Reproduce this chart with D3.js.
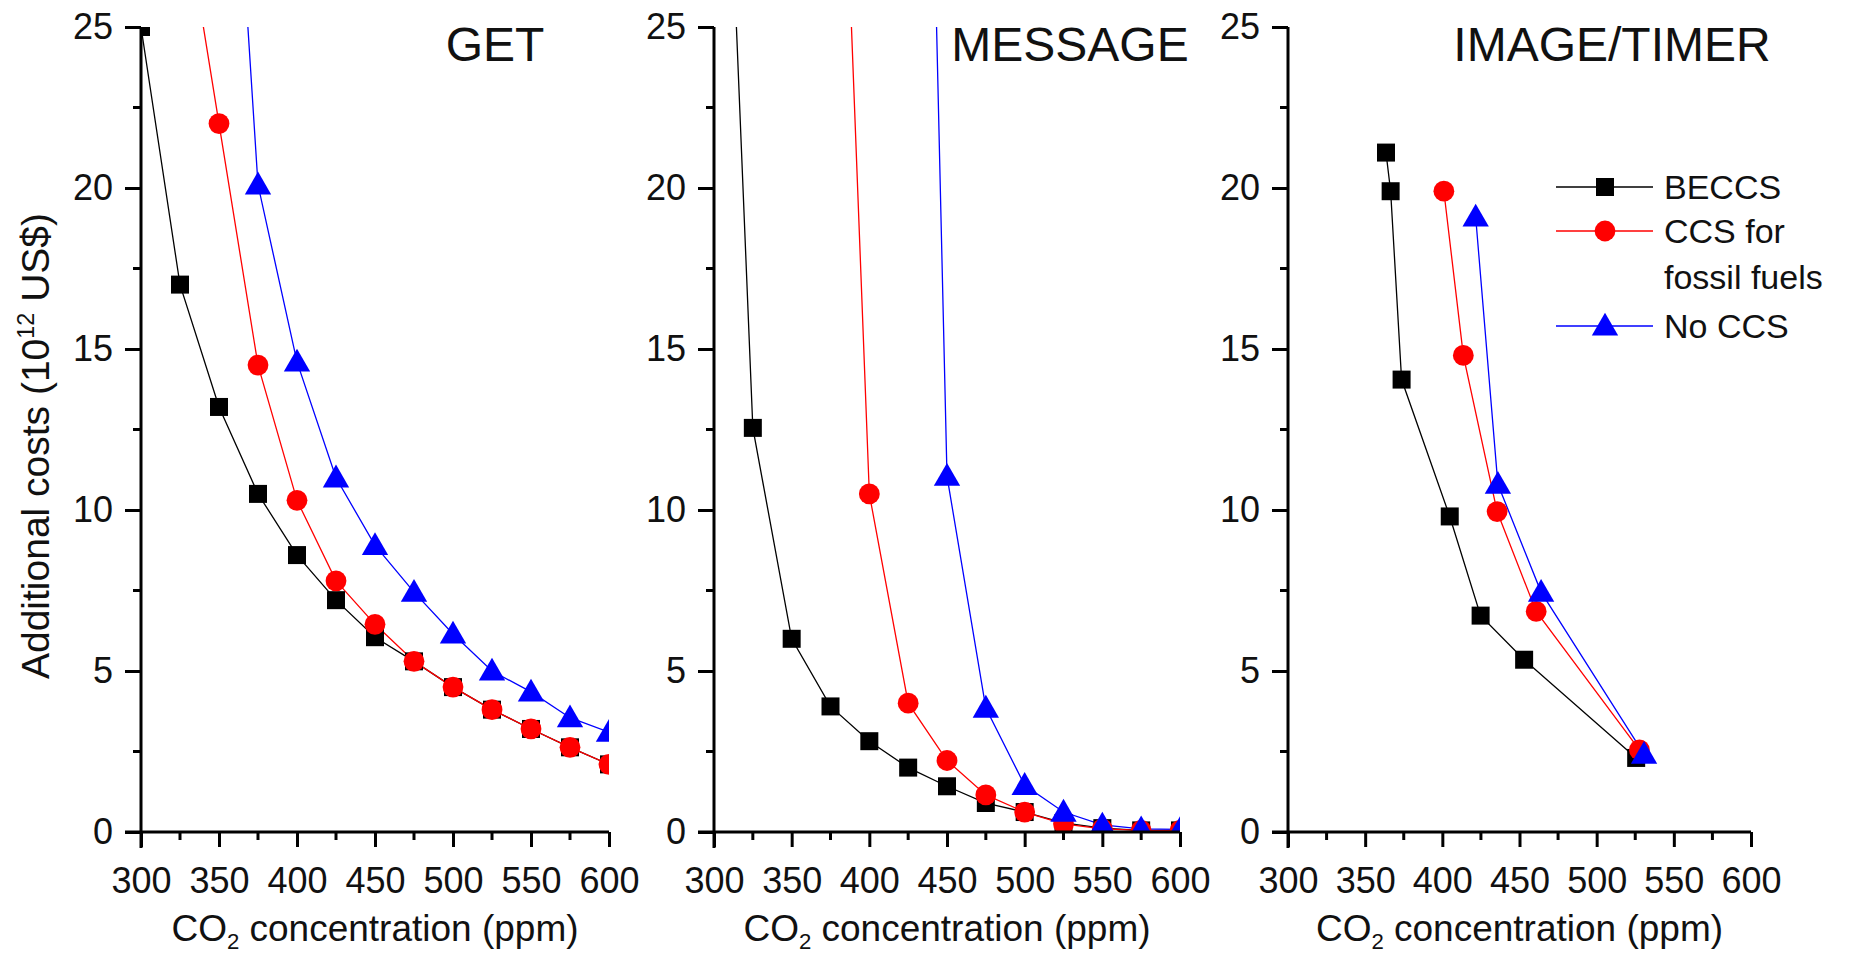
<!DOCTYPE html>
<html>
<head>
<meta charset="utf-8">
<script src="https://cdn.jsdelivr.net/npm/d3@7"></script>
<style>
  html, body { margin: 0; padding: 0; background: #fff; }
  svg { display: block; font-family: "Liberation Sans", Arial, Helvetica, sans-serif; }
</style>
</head>
<body>
<svg id="chart" width="1859" height="955"></svg>
<script>
// ---------- DATA ----------
const panelTitles = ["GET", "MESSAGE", "IMAGE/TIMER"];
const seriesNames = ["BECCS", "CCS for fossil fuels", "No CCS"];
const xTicks = [300, 350, 400, 450, 500, 550, 600];
const yTicks = [0, 5, 10, 15, 20, 25];

// GET
const getBECCS = [[300,25],[325,17.0],[350,13.2],[375,10.5],[400,8.6],[425,7.2],[450,6.05],[475,5.3],[500,4.5],[525,3.8],[550,3.2],[575,2.63],[600,2.1]];
const getCCS   = [[325,29.5],[350,22.0],[375,14.5],[400,10.3],[425,7.8],[450,6.45],[475,5.3],[500,4.5],[525,3.8],[550,3.2],[575,2.63],[600,2.1]];
const getNoCCS = [[350,39],[375,20.1],[400,14.6],[425,11.0],[450,8.9],[475,7.45],[500,6.15],[525,5.0],[550,4.35],[575,3.55],[600,3.1]];

// MESSAGE
const msgBECCS = [[300,42],[325,12.55],[350,6.0],[375,3.9],[400,2.82],[425,2.0],[450,1.42],[475,0.9],[500,0.62],[525,0.28],[550,0.12],[575,0.05],[600,0.05]];
const msgCCS   = [[375,42],[400,10.5],[425,4.0],[450,2.22],[475,1.15],[500,0.62],[525,0.25],[550,0.1],[575,0.05],[600,0.05]];
const msgNoCCS = [[425,63],[450,11.05],[475,3.85],[500,1.45],[525,0.62],[550,0.22],[575,0.1],[600,0.08]];

// IMAGE/TIMER
const imgBECCS = [[363.5,21.1],[366.5,19.9],[373.6,14.05],[404.8,9.8],[424.8,6.72],[453,5.35],[525.6,2.3]];
const imgCCS   = [[401,19.9],[413.6,14.8],[435.5,9.95],[460.8,6.85],[527.7,2.55]];
const imgNoCCS = [[421.6,19.1],[436,10.8],[464,7.45],[530.7,2.42]];

const panelData = [
  [getBECCS, getCCS, getNoCCS],
  [msgBECCS, msgCCS, msgNoCCS],
  [imgBECCS, imgCCS, imgNoCCS]
];

// ---------- STYLE / LAYOUT ----------
const colors = ["#000000", "#ff0000", "#0000ff"];
const symbols = [d3.symbolSquare, d3.symbolCircle, d3.symbolTriangle];
const symbolSizes = [324, 340, 300];
const panelLeft = [141, 714, 1288];
const panelWidth = [468, 466, 463];
const plotTop = 27, plotBottom = 832;
const titleOffset = [354, 356, 324];
const tickFont = 36, titleFont = 48, xTitleFont = 37, yTitleFont = 39, legendFont = 34;

const svg = d3.select("#chart");

const y = d3.scaleLinear().domain([0, 25]).range([plotBottom, plotTop]);

panelTitles.forEach((title, p) => {
  const x = d3.scaleLinear().domain([300, 600]).range([panelLeft[p], panelLeft[p] + panelWidth[p]]);
  const g = svg.append("g");

  const clipId = "clip" + p;
  svg.append("clipPath").attr("id", clipId)
    .append("rect")
    .attr("x", x(300)).attr("y", y(25))
    .attr("width", x(600) - x(300)).attr("height", y(0) - y(25));

  const plot = g.append("g").attr("clip-path", `url(#${clipId})`);
  const line = d3.line().x(d => x(d[0])).y(d => y(d[1]));

  panelData[p].forEach((series, s) => {
    plot.append("path")
      .datum(series)
      .attr("fill", "none")
      .attr("stroke", colors[s])
      .attr("stroke-width", 1.3)
      .attr("d", line);
  });
  panelData[p].forEach((series, s) => {
    const sym = d3.symbol().type(symbols[s]).size(symbolSizes[s]);
    plot.selectAll(null)
      .data(series)
      .enter().append("path")
      .attr("d", sym)
      .attr("transform", d => `translate(${x(d[0])},${y(d[1]) + (s === 2 ? 2 : 0)})`)
      .attr("fill", colors[s]);
  });

  // x axis
  const xAxis = d3.axisBottom(x).tickValues(xTicks).tickSize(15).tickPadding(20).tickFormat(d3.format("d"));
  const xg = g.append("g").attr("transform", `translate(0,${plotBottom})`).call(xAxis);
  xg.select(".domain").attr("stroke", "#000").attr("stroke-width", 3).attr("d", `M${x(300)-16},0H${x(600)}`);
  xg.selectAll(".tick line").attr("stroke-width", 3);
  xg.selectAll(".tick text").attr("font-size", tickFont).attr("fill", "#111")
    .attr("font-family", "Liberation Sans, Arial, sans-serif");
  const xMinor = d3.range(325, 600, 50);
  g.selectAll(null).data(xMinor).enter().append("line")
    .attr("x1", d => x(d)).attr("x2", d => x(d))
    .attr("y1", plotBottom).attr("y2", plotBottom + 8)
    .attr("stroke", "#000").attr("stroke-width", 3);

  // y axis
  const yAxis = d3.axisLeft(y).tickValues(yTicks).tickSize(16).tickPadding(12).tickFormat(d3.format("d"));
  const yg = g.append("g").attr("transform", `translate(${x(300)},0)`).call(yAxis);
  yg.select(".domain").attr("stroke", "#000").attr("stroke-width", 3).attr("d", `M0,${plotBottom+16}V${plotTop}`);
  yg.selectAll(".tick line").attr("stroke-width", 3);
  yg.selectAll(".tick text").attr("font-size", tickFont).attr("fill", "#111")
    .attr("font-family", "Liberation Sans, Arial, sans-serif");
  const yMinor = d3.range(2.5, 25, 5);
  g.selectAll(null).data(yMinor).enter().append("line")
    .attr("x1", x(300)).attr("x2", x(300) - 8)
    .attr("y1", d => y(d)).attr("y2", d => y(d))
    .attr("stroke", "#000").attr("stroke-width", 3);

  // panel title
  g.append("text")
    .attr("x", panelLeft[p] + titleOffset[p])
    .attr("y", 61)
    .attr("text-anchor", "middle")
    .attr("font-size", titleFont)
    .attr("fill", "#111")
    .text(title);

  // x axis title
  const xt = g.append("text")
    .attr("x", panelLeft[p] + panelWidth[p] / 2)
    .attr("y", 941)
    .attr("text-anchor", "middle")
    .attr("font-size", xTitleFont)
    .attr("fill", "#111");
  xt.append("tspan").text("CO");
  xt.append("tspan").attr("font-size", xTitleFont * 0.6).attr("dy", 8).text("2");
  xt.append("tspan").attr("dy", -8).text(" concentration (ppm)");
});

// y axis title
const yt = svg.append("text")
  .attr("transform", "translate(49,446) rotate(-90)")
  .attr("text-anchor", "middle")
  .attr("font-size", yTitleFont)
  .attr("fill", "#111");
yt.append("tspan").text("Additional costs (10");
yt.append("tspan").attr("font-size", yTitleFont * 0.6).attr("dy", -15).text("12");
yt.append("tspan").attr("dy", 15).text(" US$)");

// legend
const legendRows = [187, 231, 326];
const lg = svg.append("g");
seriesNames.forEach((name, s) => {
  const ly = legendRows[s];
  lg.append("line").attr("x1", 1556).attr("x2", 1653).attr("y1", ly).attr("y2", ly)
    .attr("stroke", colors[s]).attr("stroke-width", 1.3);
  lg.append("path").attr("d", d3.symbol().type(symbols[s]).size(symbolSizes[s])())
    .attr("transform", `translate(1605,${ly + (s === 2 ? 2 : 0)})`).attr("fill", colors[s]);
  const t = lg.append("text").attr("x", 1664).attr("y", ly + 12)
    .attr("font-size", legendFont).attr("fill", "#111");
  if (s === 1) {
    t.append("tspan").attr("x", 1664).text("CCS for");
    t.append("tspan").attr("x", 1664).attr("dy", 46).text("fossil fuels");
  } else {
    t.text(name);
  }
});
</script>
</body>
</html>
